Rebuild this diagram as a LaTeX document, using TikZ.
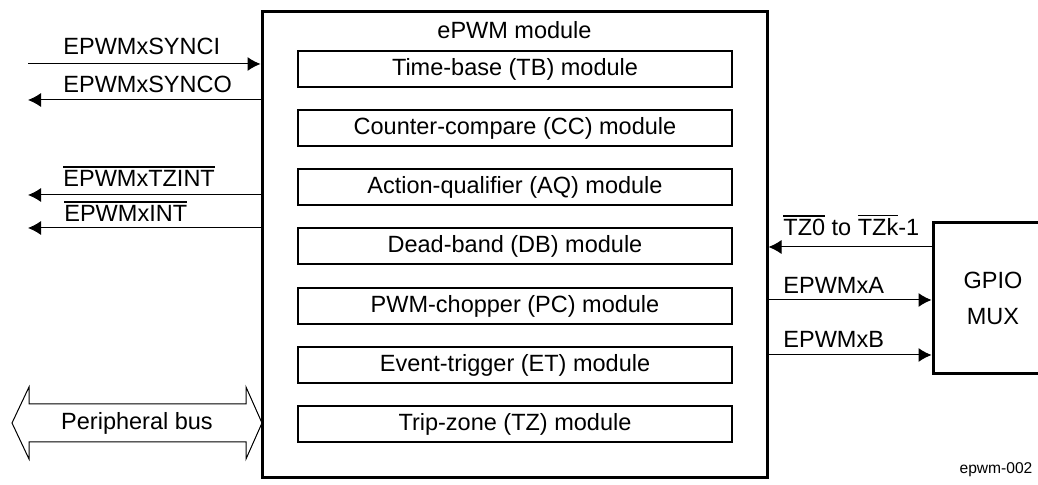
\documentclass[tikz,border=0pt]{standalone}
\usepackage{fontspec}
\setmainfont{Liberation Sans}
\usetikzlibrary{arrows.meta}
\newcommand\myovl[1]{\vbox{\hrule height 0.8pt\kern1.4pt\hbox{#1}}}
\tikzset{
  every node/.style={font=\fontsize{11.75}{18}\selectfont, inner sep=0pt},
  modbox/.style={draw, line width=1pt, minimum width=217pt, minimum height=18pt},
  sig/.style={line width=0.5pt, -{Latex[length=6.5pt,width=7pt]}},
  lbl/.style={anchor=base west},
}
\begin{document}
\begin{tikzpicture}[x=0.5pt,y=-0.5pt]
\clip (0,0) rectangle (1038,485);
\useasboundingbox (0,0) rectangle (1038,485);
% main module
\node[draw, line width=1.5pt, minimum width=252.5pt, minimum height=233pt] (epwm) at (514.5,245) {};
\node (title) at (514.5,30) {ePWM module};
\node[modbox] (tb) at (515,69) {Time-base (TB) module};
\node[modbox] (cc) at (515,128) {Counter-compare (CC) module};
\node[modbox] (aq) at (515,187) {Action-qualifier (AQ) module};
\node[modbox] (db) at (515,246.5) {Dead-band (DB) module};
\node[modbox] (pc) at (515,306) {PWM-chopper (PC) module};
\node[modbox] (et) at (515,365) {Event-trigger (ET) module};
\node[modbox] (tz) at (515,424.5) {Trip-zone (TZ) module};
% GPIO mux
\node[draw, line width=1.5pt, minimum width=60pt, minimum height=75.5pt, align=center] (gpio) at (993,298.5) {GPIO\\MUX};
% left signals
\coordinate (l1) at (28,64);
\coordinate (l2) at (28,100);
\coordinate (l3) at (28,195);
\coordinate (l4) at (28,228);
\draw[sig] (l1) -- (l1 -| epwm.west);
\draw[sig] (l2 -| epwm.west) -- (l2);
\draw[sig] (l3 -| epwm.west) -- (l3);
\draw[sig] (l4 -| epwm.west) -- (l4);
\node[lbl] (n1) at (63,55) {EPWMxSYNCI};
\node[lbl] (n2) at (63,93) {EPWMxSYNCO};
\node[lbl] (n3) at (63,187) {\myovl{EPWMxTZINT}};
\node[lbl] (n4) at (64,222) {\myovl{EPWMxINT}};
% right signals
\coordinate (r1) at (800,247);
\coordinate (r2) at (800,300);
\coordinate (r3) at (800,355);
\draw[sig] (r1 -| gpio.west) -- (r1 -| epwm.east);
\draw[sig] (r2 -| epwm.east) -- (r2 -| gpio.west);
\draw[sig] (r3 -| epwm.east) -- (r3 -| gpio.west);
\node[lbl] (m1) at (783,236) {\myovl{TZ0} to \myovl{TZk}-1};
\node[lbl] (m2) at (783,294) {EPWMxA};
\node[lbl] (m3) at (783,348) {EPWMxB};
% peripheral bus
\draw[line width=0.5pt] (12,423) -- (29,387) -- (29,404) -- (246,404) -- (246,387) -- (262,423)
  -- (246,459) -- (246,442) -- (29,442) -- (29,459) -- cycle;
\node (bus) at (137,423) {Peripheral bus};
% figure id
\node[font=\fontsize{7.8}{9}\selectfont] (fid) at (996,470) {epwm-002};
\end{tikzpicture}
\end{document}
